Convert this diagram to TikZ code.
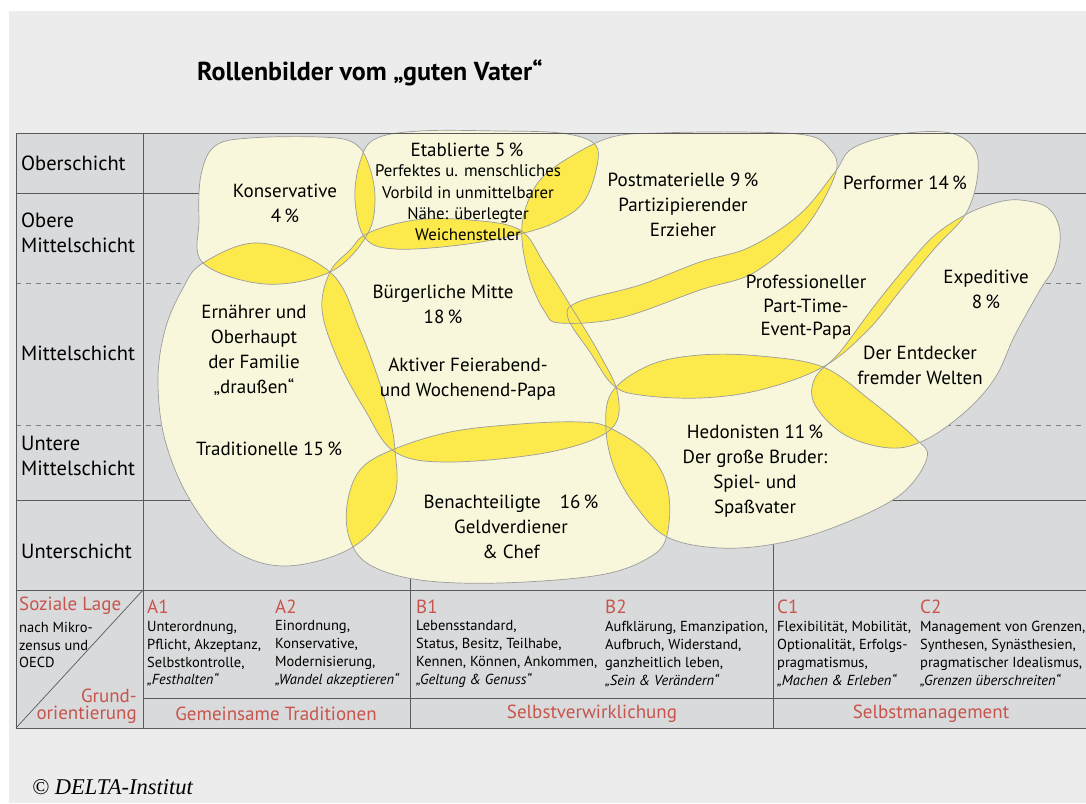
\documentclass[tikz,border=0pt]{standalone}
\usepackage{fontspec}
\setmainfont{PT Sans}
\newfontfamily\creditfont{Liberation Serif}
\definecolor{pagegray}{HTML}{EBECEB}
\definecolor{gridgray}{HTML}{D9DADC}
\definecolor{milieu}{HTML}{F9F7DB}
\definecolor{overlap}{HTML}{FCE94B}
\definecolor{linegray}{HTML}{5A5A5A}
\definecolor{blobline}{HTML}{9C9C9C}
\definecolor{headred}{HTML}{C8544C}
\tikzset{
  rowlabel/.style={anchor=west, align=left, inner sep=0pt, font=\fontsize{20.5}{25}\selectfont},
  milieutext/.style={align=center, inner sep=0pt, font=\fontsize{19}{25}\selectfont},
  milieusmall/.style={align=center, inner sep=0pt, font=\fontsize{16.8}{21.3}\selectfont},
  redhead/.style={inner sep=0pt, text=headred, font=\fontsize{19}{20}\selectfont},
  cellbox/.style={anchor=west, align=left, inner sep=0pt, font=\fontsize{14.5}{17.8}\selectfont},
  gridline/.style={linegray, line width=0.9pt},
  layerline/.style={gray, line width=0.8pt, dash pattern=on 5pt off 5pt},
  blob/.style={blobline, line width=0.7pt}
}
\newcommand\overlapfill[2]{\begin{scope}\clip #1; \fill[overlap] #2;\end{scope}}
\begin{document}
\begin{tikzpicture}[x=1pt,y=-1pt]
\useasboundingbox (0,0) rectangle (1086,803);
\fill[white] (0,0) rectangle (1086,803);
\fill[pagegray] (9,11) rectangle (1086,803);
\fill[gridgray] (16,133) rectangle (1086,728);

% milieu shapes
\def\blobKons{plot[smooth cycle,tension=0.6] coordinates {(215,146) (250,138) (320,137) (352,142) (367,160) (375,197) (367,235) (330,272) (265,284) (203,263) (199,220) (201,175)}}
\def\blobEtab{plot[smooth cycle,tension=0.6] coordinates {(375,139) (420,131) (500,131) (560,133) (592,142) (598,160) (585,200) (558,221) (520,234) (460,245) (395,249) (365,238) (355,200) (360,162)}}
\def\blobPost{plot[smooth cycle,tension=0.6] coordinates {(612,137) (660,133) (740,132) (805,135) (828,147) (836,172) (805,228) (755,272) (700,290) (620,318) (560,323) (545,312) (530,280) (522,240) (525,210) (540,180) (570,157)}}
\def\blobPerf{plot[smooth cycle,tension=0.6] coordinates {(853,148) (900,134) (950,133) (975,150) (977,180) (965,215) (935,248) (903,287) (868,330) (823,367) (760,390) (700,398) (640,395) (613,385) (590,352) (568,318) (578,302) (640,285) (700,262) (750,247) (800,214) (835,172)}}
\def\blobExp{plot[smooth cycle,tension=0.6] coordinates {(995,203) (1020,200) (1048,208) (1060,232) (1055,265) (1040,290) (1015,335) (995,378) (965,412) (925,440) (890,448) (845,435) (815,405) (815,378) (840,352) (875,305) (910,262) (935,235) (965,215)}}
\def\blobMitte{plot[smooth cycle,tension=0.6] coordinates {(330,272) (350,250) (368,233) (415,220) (470,220) (520,230) (545,265) (570,305) (600,355) (618,395) (610,430) (550,452) (450,462) (395,452) (365,410) (338,360) (322,310)}}
\def\blobTrad{plot[smooth cycle,tension=0.6] coordinates {(203,263) (260,243) (330,272) (360,330) (385,400) (395,450) (393,500) (353,547) (285,566) (230,548) (190,500) (165,440) (158,380) (165,330) (182,290)}}
\def\blobBen{plot[smooth cycle,tension=0.6] coordinates {(392,450) (450,432) (520,424) (580,422) (610,428) (650,455) (668,490) (667,535) (650,557) (600,575) (500,583) (420,580) (370,565) (350,540) (347,505) (360,470)}}
\def\blobHed{plot[smooth cycle,tension=0.6] coordinates {(612,392) (650,365) (700,355) (760,356) (823,367) (870,400) (915,438) (927,458) (900,495) (840,525) (780,543) (720,548) (667,537) (635,505) (615,470) (606,430)}}

% grid lines
\draw[layerline] (16,283) -- (1086,283);
\draw[layerline] (16,425) -- (1086,425);
\draw[gridline] (16,193) -- (1086,193);
\draw[gridline] (16,500) -- (1086,500);
\draw[gridline] (410,133) -- (410,728);
\draw[gridline] (773,133) -- (773,728);

\fill[milieu] \blobKons;
\fill[milieu] \blobEtab;
\fill[milieu] \blobPost;
\fill[milieu] \blobPerf;
\fill[milieu] \blobExp;
\fill[milieu] \blobMitte;
\fill[milieu] \blobTrad;
\fill[milieu] \blobBen;
\fill[milieu] \blobHed;

\overlapfill{\blobKons}{\blobEtab}
\overlapfill{\blobKons}{\blobTrad}
\overlapfill{\blobKons}{\blobMitte}
\overlapfill{\blobEtab}{\blobMitte}
\overlapfill{\blobEtab}{\blobPost}
\overlapfill{\blobPost}{\blobMitte}
\overlapfill{\blobPost}{\blobPerf}
\overlapfill{\blobPerf}{\blobMitte}
\overlapfill{\blobPerf}{\blobExp}
\overlapfill{\blobPerf}{\blobHed}
\overlapfill{\blobExp}{\blobHed}
\overlapfill{\blobMitte}{\blobTrad}
\overlapfill{\blobMitte}{\blobBen}
\overlapfill{\blobMitte}{\blobHed}
\overlapfill{\blobTrad}{\blobBen}
\overlapfill{\blobBen}{\blobHed}

\draw[blob] \blobKons;
\draw[blob] \blobEtab;
\draw[blob] \blobPost;
\draw[blob] \blobPerf;
\draw[blob] \blobExp;
\draw[blob] \blobMitte;
\draw[blob] \blobTrad;
\draw[blob] \blobBen;
\draw[blob] \blobHed;

% table frame
\draw[gridline] (1086,133) -- (16,133) -- (16,728) -- (1086,728);
\draw[gridline] (143,133) -- (143,728);
\draw[gridline] (16,590) -- (1086,590);
\draw[gridline] (143,698) -- (1086,698);
\draw[linegray, line width=0.7pt] (16,728) -- (143,590);

% title and credit
\node[anchor=west, inner sep=0pt, font=\fontsize{26}{30}\selectfont\bfseries] (title) at (197,73) {Rollenbilder vom „guten Vater“};
\node[anchor=west, inner sep=0pt, font=\fontsize{22.5}{26}\selectfont\creditfont\itshape] (credit) at (32,787) {© DELTA-Institut};

% social layers
\node[rowlabel] (ober) at (21,163) {Oberschicht};
\node[rowlabel] (obmit) at (21,232.5) {Obere\\Mittelschicht};
\node[rowlabel] (mittel) at (21,353) {Mittelschicht};
\node[rowlabel] (untmit) at (21,455.5) {Untere\\Mittelschicht};
\node[rowlabel] (unter) at (21,551) {Unterschicht};

% milieu labels
\node[milieutext] (kons) at (285,203.5) {Konservative\\4\,\%};
\node[milieutext] (etab) at (467,150) {Etablierte 5\,\%};
\node[milieusmall] (etabrole) at (468,203) {Perfektes u. menschliches\\Vorbild in unmittelbarer\\Nähe: überlegter\\Weichensteller};
\node[milieutext] (post) at (683,205) {Postmaterielle 9\,\%\\Partizipierender\\Erzieher};
\node[milieutext] (perf) at (905,183) {Performer 14\,\%};
\node[milieutext, font=\fontsize{19}{23.5}\selectfont] (perfrole) at (806,307.5) {Professioneller\\Part-Time-\\Event-Papa};
\node[milieutext] (exp) at (986,289.5) {Expeditive\\8\,\%};
\node[milieutext] (exprole) at (920,365) {Der Entdecker\\fremder Welten};
\node[milieutext] (mitte) at (443,304) {Bürgerliche Mitte\\18\,\%};
\node[milieutext] (mitterole) at (468,379) {Aktiver Feierabend-\\und Wochenend-Papa};
\node[milieutext] (tradrole) at (254,350) {Ernährer und\\Oberhaupt\\der Familie\\„draußen“};
\node[milieutext] (trad) at (269,449) {Traditionelle 15\,\%};
\node[milieutext] (hed) at (755,471.5) {Hedonisten 11\,\%\\Der große Bruder:\\Spiel- und\\Spaßvater};
\node[milieutext] (ben) at (511,527) {Benachteiligte\quad 16\,\%\\Geldverdiener\\\&~Chef};

% basic orientation
\node[redhead, anchor=west] (lage) at (19,606) {Soziale Lage};
\node[cellbox] (lagetxt) at (19,645) {nach Mikro-\\zensus und\\OECD};
\node[redhead, anchor=east] (grund) at (137,696) {Grund-};
\node[redhead, anchor=east] (orient) at (137,715) {orientierung};
\node[redhead, anchor=west] (a1) at (147,607) {A1};
\node[redhead, anchor=west] (a2) at (275,607) {A2};
\node[redhead, anchor=west] (b1) at (416,607) {B1};
\node[redhead, anchor=west] (b2) at (605,607) {B2};
\node[redhead, anchor=west] (c1) at (777,607) {C1};
\node[redhead, anchor=west] (c2) at (920,607) {C2};
\node[cellbox] (a1txt) at (147,654) {Unterordnung,\\Pflicht, Akzeptanz,\\Selbstkontrolle,\\\textit{„Festhalten“}};
\node[cellbox] (a2txt) at (275,654) {Einordnung,\\Konservative,\\Modernisierung,\\\textit{„Wandel akzeptieren“}};
\node[cellbox] (b1txt) at (416,654) {Lebensstandard,\\Status, Besitz, Teilhabe,\\Kennen, Können, Ankommen,\\\textit{„Geltung \& Genuss“}};
\node[cellbox] (b2txt) at (605,654) {Aufklärung, Emanzipation,\\Aufbruch, Widerstand,\\ganzheitlich leben,\\\textit{„Sein \& Verändern“}};
\node[cellbox] (c1txt) at (777,654) {Flexibilität, Mobilität,\\Optionalität, Erfolgs-\\pragmatismus,\\\textit{„Machen \& Erleben“}};
\node[cellbox] (c2txt) at (920,654) {Management von Grenzen,\\Synthesen, Synästhesien,\\pragmatischer Idealismus,\\\textit{„Grenzen überschreiten“}};
\node[redhead] (tradgrp) at (276,714) {Gemeinsame Traditionen};
\node[redhead] (selbstgrp) at (592,714) {Selbstverwirklichung};
\node[redhead] (mgmtgrp) at (931,714) {Selbstmanagement};

\end{tikzpicture}
\end{document}
